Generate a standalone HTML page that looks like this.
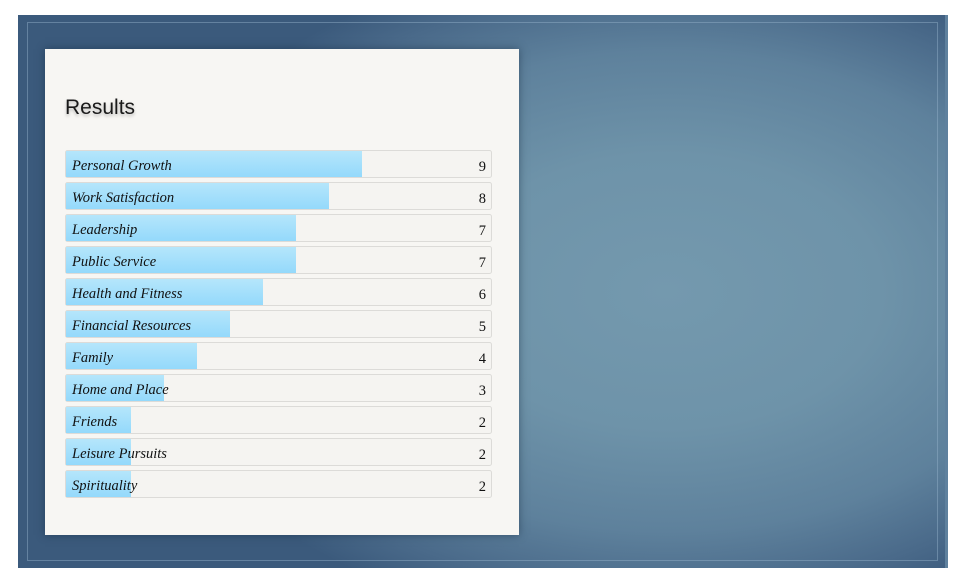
<!DOCTYPE html>
<html><head><meta charset="utf-8">
<style>
html,body{margin:0;padding:0;width:973px;height:584px;background:#fff;overflow:hidden}
#frame{position:absolute;left:18px;top:15px;width:930px;height:553px;
background:radial-gradient(ellipse 58% 62% at 70% 50%,#7499ae 0%,#6e93a9 40%,#5e819c 70%,#4a6a8a 88%,#3b5a7c 100%);
border-right:3px solid #5f819e;box-sizing:border-box}
#inner{position:absolute;left:9px;top:7px;right:7px;bottom:7px;border:1px solid rgba(150,180,205,0.45)}
#panel{position:absolute;left:45px;top:49px;width:474px;height:486px;background:#f7f6f3;box-shadow:0 0 8px rgba(20,40,60,0.5)}
#title{position:absolute;left:20px;top:47px;font:21px "Liberation Sans",sans-serif;color:#1a1a1a;text-shadow:0 2px 3px rgba(0,0,0,0.25)}
svg{position:absolute;left:0;top:0}
.lab{font:italic 14.5px "Liberation Serif",serif;fill:#111}
.val{font:14.5px "Liberation Serif",serif;fill:#111}
</style></head><body>
<div id="frame"><div id="inner"></div></div>
<div id="panel">
<div id="title">Results</div>
<svg id="chart" width="474" height="486">
<defs><linearGradient id="g" x1="0" y1="0" x2="0" y2="1"><stop offset="0" stop-color="#b5e6fb"/><stop offset="1" stop-color="#94d9fb"/></linearGradient></defs>
</svg>
</div>
<script>
const categories=["Personal Growth","Work Satisfaction","Leadership","Public Service","Health and Fitness","Financial Resources","Family","Home and Place","Friends","Leisure Pursuits","Spirituality"];
const values=[9,8,7,7,6,5,4,3,2,2,2];
const svg=document.getElementById('chart');
const NS='http://www.w3.org/2000/svg';
const x0=20,unit=33,trackW=426,top0=101,pitch=32,h=27;
function xs(v){return v*unit-1;}
function ys(i){return top0+i*pitch;}
categories.forEach((c,i)=>{
 const y=ys(i);
 const t=document.createElementNS(NS,'rect');
 t.setAttribute('x',x0+0.5);t.setAttribute('y',y+0.5);t.setAttribute('width',trackW);t.setAttribute('height',h);
 t.setAttribute('rx',2);t.setAttribute('fill','#f5f4f1');t.setAttribute('stroke','#dcdbd8');
 
 
 svg.appendChild(t);
 const b=document.createElementNS(NS,'rect');
 b.setAttribute('x',x0+1);b.setAttribute('y',y+1);b.setAttribute('width',xs(values[i]));b.setAttribute('height',h-1);
 b.setAttribute('fill','url(#g)');
 
 
 svg.appendChild(b);
 const l=document.createElementNS(NS,'text');
 l.setAttribute('x',x0+7);l.setAttribute('y',y+20);l.setAttribute('class','lab');l.textContent=c;
 
 
 svg.appendChild(l);
 const v=document.createElementNS(NS,'text');
 v.setAttribute('x',x0+421);v.setAttribute('y',y+21);v.setAttribute('text-anchor','end');v.setAttribute('class','val');v.textContent=values[i];
 
 
 svg.appendChild(v);
});
</script>
</body></html>
